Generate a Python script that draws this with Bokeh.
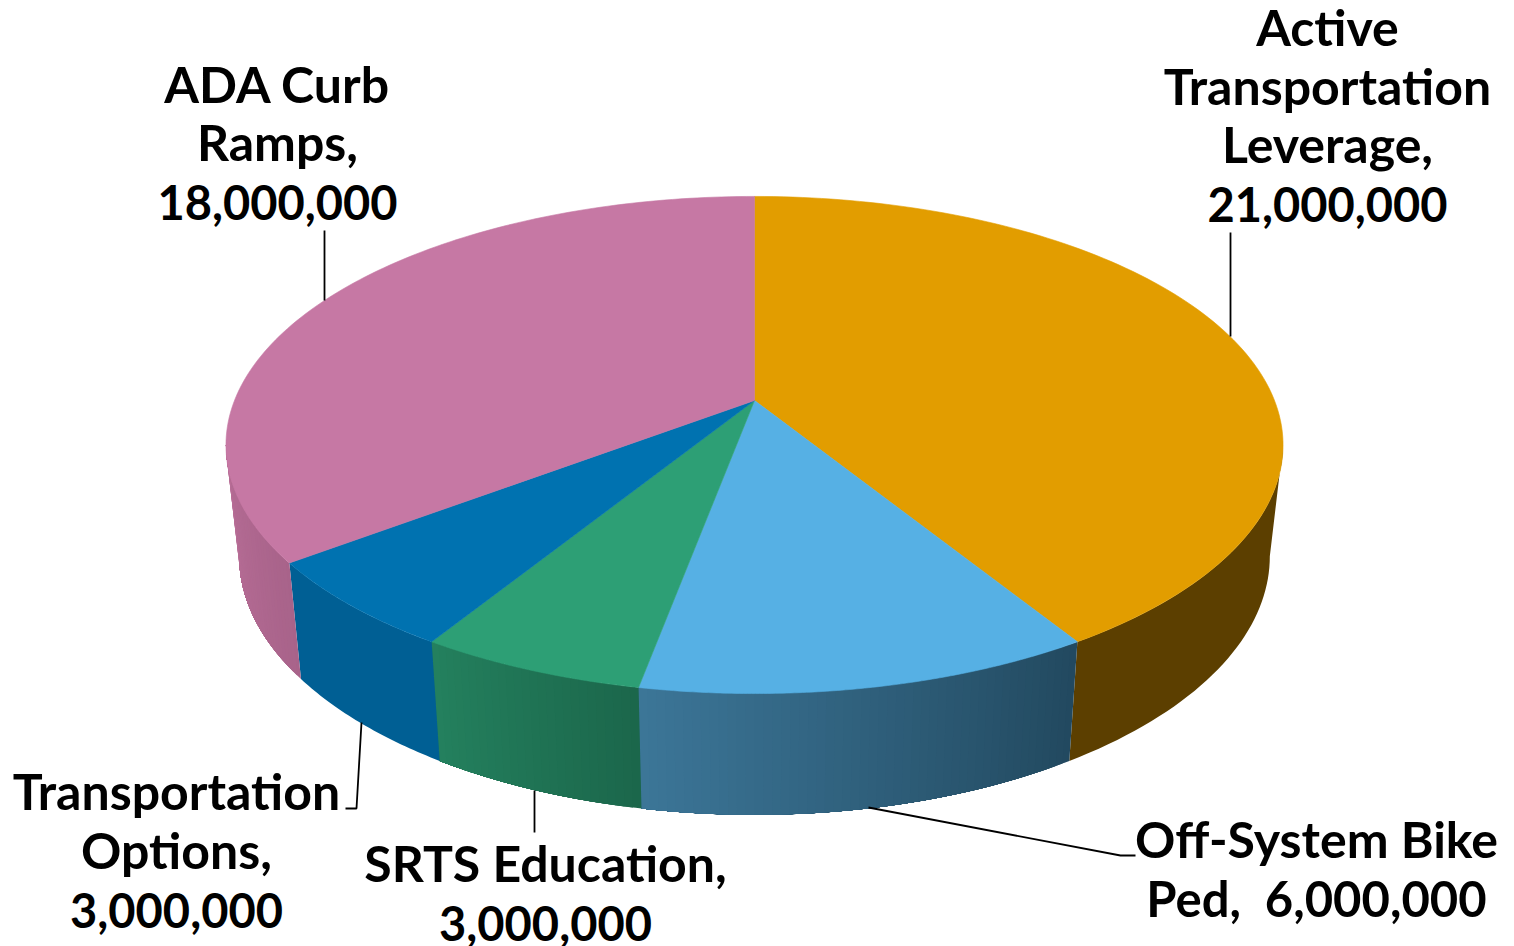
import numpy as np
from bokeh.plotting import figure
from bokeh.models import Range1d
from bokeh.core.properties import value
from bokeh.embed import file_html
from bokeh.resources import INLINE

categories = ["Active Transportation Leverage", "Off-System Bike Ped", "SRTS Education",
              "Transportation Options", "ADA Curb Ramps"]
values = [21000000, 6000000, 3000000, 3000000, 18000000]
top_colors = ["#E29D00", "#56B0E4", "#2D9F75", "#0072B0", "#C678A4"]
side_left = ["#5C3F00", "#3C7698", "#24815E", "#005F94", "#B86E97"]
side_right = ["#5C3F00", "#22495F", "#1B664B", "#005F94", "#A8638A"]
label_lines = [
    ["Active", "Transportation", "Leverage,", "21,000,000"],
    ["Off-System Bike", "Ped,\u00a0 6,000,000"],
    ["SRTS Education,", "3,000,000"],
    ["Transportation", "Options,", "3,000,000"],
    ["ADA Curb", "Ramps,", "18,000,000"],
]
label_size = [
    ["50px", "50px", "50px", "47px"],
    ["50px", "49px"],
    ["50px", "47px"],
    ["50px", "50px", "47px"],
    ["50px", "50px", "47px"],
]
label_x = [1327, 1316, 545, 176, 277]
label_y = [[26, 85, 143, 204], [838, 897], [862, 923], [790, 849, 910], [83, 141, 202]]
leaders = [
    ([1230, 1230], [232, 336]),
    ([868, 1120, 1135], [807, 855, 855]),
    ([534, 534], [790, 832]),
    ([361, 356, 345], [722, 808, 808]),
    ([324, 324], [230, 300]),
]

CX, CY = 754.0, 400.0
A, B, K = 520.0, 240.6, 0.179
SX, SY, BY = 0.975, 1.04, 509.5


def top(theta):
    u, v = np.sin(theta), -np.cos(theta)
    d = 1 - K * v
    return CX + A * u / d, CY + B * v / d


def bottom(theta):
    u, v = np.sin(theta), -np.cos(theta)
    d = 1 - K * v
    return CX + SX * A * u / d, BY + SY * B * v / d


def hex2rgb(h):
    return np.array([int(h[i:i + 2], 16) for i in (1, 3, 5)], float)


def mix(a, b, t):
    c = hex2rgb(a) * (1 - t) + hex2rgb(b) * t
    return "#%02x%02x%02x" % tuple(int(round(x)) for x in c)


vals = np.array(values, float)
edges = np.concatenate([[0], np.cumsum(vals)]) / vals.sum() * 2 * np.pi
T_RIGHT, T_LEFT = np.radians(100.3), np.radians(259.7)

p = figure(width=1514, height=946, x_range=Range1d(0, 1514), y_range=Range1d(946, 0),
           toolbar_location=None, output_backend="svg", min_border=0,
           outline_line_color=None, background_fill_color="white", border_fill_color="white")
p.axis.visible = False
p.grid.visible = False

# side walls: each facet runs on to the end of its slice and the next one paints over it,
# so the shading runs across the slice without seams
xs, ys, cols = [], [], []
for i in range(len(vals)):
    t0, t1 = max(edges[i], T_RIGHT), min(edges[i + 1], T_LEFT)
    if t1 <= t0:
        continue
    same = side_left[i] == side_right[i]
    n = 1 if same else max(2, int((t1 - t0) / np.radians(0.8)))
    g = np.linspace(t0, t1, n + 1)
    for j in range(n):
        arc = np.linspace(g[j], t1, 40)
        tx, ty = top(arc)
        bx, by = bottom(arc[::-1])
        xs.append(list(tx) + list(bx))
        ys.append(list(ty) + list(by))
        cols.append(mix(side_right[i], side_left[i], (j + 0.5) / n))
p.patches(xs, ys, fill_color=cols, line_color=None)

# top face
xs, ys, cols = [], [], []
for i in range(len(vals)):
    g = np.linspace(edges[i], edges[i + 1], 120)
    x, y = top(g)
    xs.append([CX] + list(x))
    ys.append([CY] + list(y))
    cols.append(top_colors[i])
p.patches(xs, ys, fill_color=cols, line_color=cols, line_width=0.6)

# leader lines
p.multi_line([l[0] for l in leaders], [l[1] for l in leaders], line_color="black", line_width=1.8)

# labels
for lines, sizes, x0, yy in zip(label_lines, label_size, label_x, label_y):
    for line, size, y0 in zip(lines, sizes, yy):
        p.text([x0], [y0], text=[line], text_font=value("Lato"), text_font_size=value(size),
               text_font_style="bold", text_color="#000000", text_align="center", text_baseline="middle")

open("out.html", "w").write(file_html(p, INLINE))
